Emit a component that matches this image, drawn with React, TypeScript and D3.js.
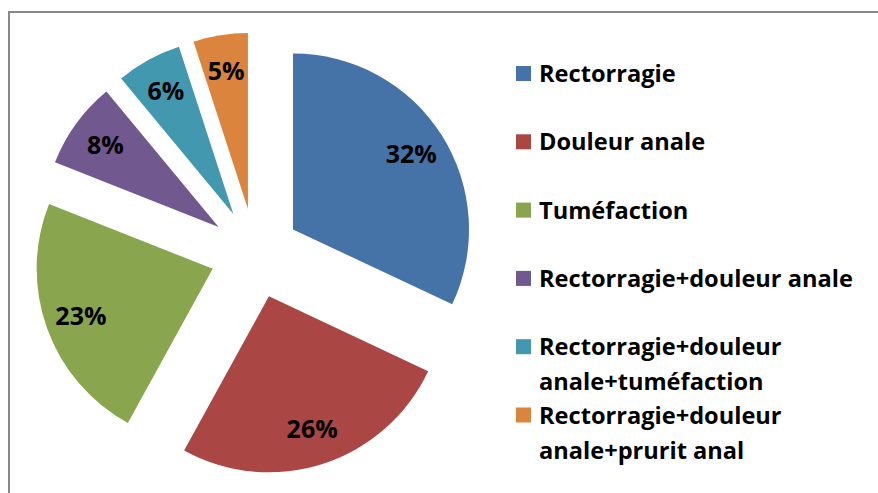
import React from "react";
import * as d3 from "d3";

const categories = [
  "Rectorragie",
  "Douleur anale",
  "Tuméfaction",
  "Rectorragie+douleur anale",
  "Rectorragie+douleur anale+tuméfaction",
  "Rectorragie+douleur anale+prurit anal",
];
const values = [32, 26, 23, 8, 6, 5];
const colors = ["#4572A7", "#AA4643", "#89A54E", "#71588F", "#4198AF", "#DB843D"];

const W = 878;
const H = 493;
const cx = 255;
const cy = 253.5;
const R = 176;
const explode = 45;
const labelDist = 140;

function wrap(s: string, maxChars: number): string[] {
  const words = s.split(" ");
  const lines: string[] = [];
  let cur = "";
  for (const w of words) {
    const t = cur ? cur + " " + w : w;
    if (t.length > maxChars && cur) {
      lines.push(cur);
      cur = w;
    } else cur = t;
  }
  if (cur) lines.push(cur);
  return lines;
}

export default function App() {
  const pie = d3.pie<number>().sort(null).value((d) => d)(values);
  const arc = d3.arc<d3.PieArcDatum<number>>().innerRadius(0).outerRadius(R);
  const total = d3.sum(values);
  const fmt = (v: number) => Math.round((v / total) * 100) + "%";

  const legendX = 516;
  const legendY0 = 82;
  const legendStep = 68.3;
  const lineH = 35;

  return (
    <svg
      width={W}
      height={H}
      style={{ position: "absolute", left: 0, top: 0, background: "#fff" }}
    >
      <rect x={0} y={0} width={W} height={H} fill="#fff" />
      <rect x={9} y={12} width={W + 20} height={H + 20} fill="none" stroke="#888" strokeWidth={2} />
      <g>
        {pie.map((p, i) => {
          const mid = (p.startAngle + p.endAngle) / 2;
          const ox = cx + explode * Math.sin(mid);
          const oy = cy - explode * Math.cos(mid);
          const lx = ox + labelDist * Math.sin(mid);
          const ly = oy - labelDist * Math.cos(mid);
          return (
            <g key={i}>
              <path d={arc(p) || ""} transform={`translate(${ox},${oy})`} fill={colors[i]} />
              <text
                x={lx}
                y={ly}
                dy="0.36em"
                textAnchor="middle"
                fontFamily="'Open Sans', sans-serif"
                fontWeight={700}
                fontSize={25}
                fill="#000"
              >
                {fmt(values[i])}
              </text>
            </g>
          );
        })}
      </g>
      <g>
        {categories.map((c, i) => {
          const by = legendY0 + legendStep * i;
          const lines = wrap(c, 26);
          return (
            <g key={i}>
              <rect x={legendX} y={by - 16} width={15} height={15} fill={colors[i]} />
              <text
                x={legendX + 23}
                y={by}
                fontFamily="'Open Sans', sans-serif"
                fontWeight={700}
                fontSize={23.6}
                fill="#000"
              >
                {lines.map((l, j) => (
                  <tspan key={j} x={legendX + 23} y={by + j * lineH}>
                    {l}
                  </tspan>
                ))}
              </text>
            </g>
          );
        })}
      </g>
    </svg>
  );
}
